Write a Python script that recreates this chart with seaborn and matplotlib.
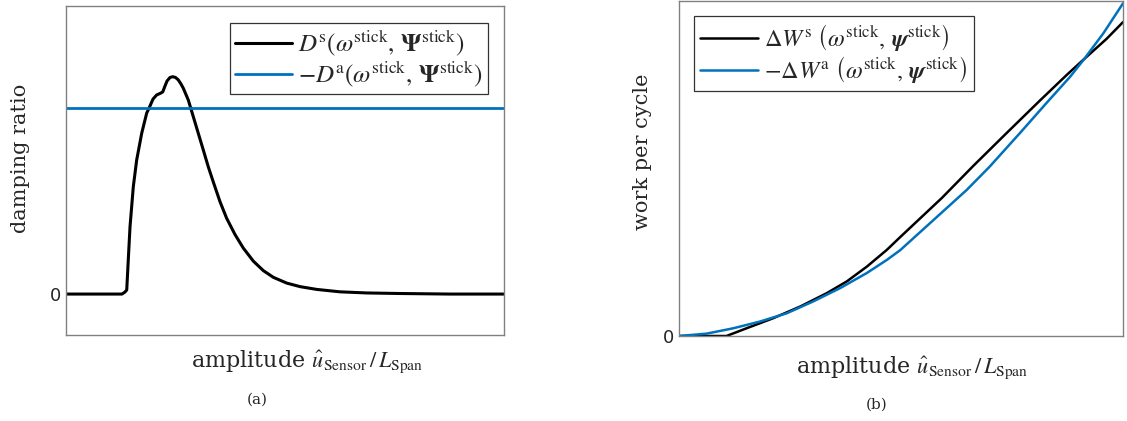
import numpy as np
import matplotlib
matplotlib.use("Agg")
import matplotlib.pyplot as plt
from matplotlib.font_manager import FontProperties
import seaborn as sns

# (a) damping ratio over amplitude (arbitrary units, zero at 0, aero level = 1)
amp_a = [0.0, 0.767, 0.808, 0.832, 0.853, 0.877, 0.922, 0.968, 1.037, 1.105,
         1.151, 1.192, 1.242, 1.288, 1.325, 1.356, 1.384, 1.425, 1.462, 1.500,
         1.538, 1.575, 1.607, 1.675, 1.744, 1.812, 1.881, 1.949, 2.018, 2.110,
         2.201, 2.315, 2.429, 2.566, 2.703, 2.840, 3.023, 3.205, 3.434, 3.753,
         4.119, 4.575, 5.260, 6.0]
damp_struct = [0.0, 0.0, 0.011, 0.022, 0.183, 0.362, 0.577, 0.720, 0.864, 0.972,
               1.011, 1.048, 1.070, 1.078, 1.086, 1.118, 1.145, 1.164, 1.168, 1.164,
               1.151, 1.129, 1.106, 1.043, 0.953, 0.864, 0.774, 0.684, 0.602, 0.496,
               0.407, 0.320, 0.247, 0.177, 0.126, 0.090, 0.059, 0.040, 0.025, 0.012,
               0.006, 0.003, 0.0, 0.0]
amp_aero = [0.0, 6.0]
damp_aero = [1.0, 1.0]

# (b) work per cycle over amplitude (normalised)
amp_ws = [0.0, 0.107, 0.152, 0.212, 0.273, 0.333, 0.378, 0.423, 0.468, 0.498,
          0.592, 0.663, 0.738, 0.813, 0.873, 0.911, 0.963, 1.0]
work_struct = [0.0, 0.0, 0.023, 0.053, 0.088, 0.128, 0.163, 0.207, 0.257, 0.295,
               0.412, 0.508, 0.606, 0.703, 0.779, 0.825, 0.887, 0.937]
amp_wa = [0.0, 0.062, 0.122, 0.182, 0.243, 0.302, 0.363, 0.423, 0.468, 0.498,
          0.573, 0.648, 0.700, 0.768, 0.828, 0.881, 0.911, 0.956, 1.0]
work_aero = [0.0, 0.007, 0.023, 0.043, 0.068, 0.103, 0.143, 0.188, 0.227, 0.256,
             0.346, 0.436, 0.506, 0.606, 0.696, 0.774, 0.824, 0.904, 0.993]

BLUE = "#0072BD"
GRAY = "#808080"

sns.set_style("white")
plt.rcParams["font.family"] = ["DejaVu Serif"]
plt.rcParams["mathtext.fontset"] = "stix"

fig = plt.figure(figsize=(11.27, 4.21), dpi=100)
W, H = 1127, 421
ax1 = fig.add_axes([66 / W, (H - 335) / H, 438 / W, 329 / H])
ax2 = fig.add_axes([679 / W, (H - 336) / H, 444 / W, 335 / H])

sns.lineplot(x=amp_a, y=damp_struct, ax=ax1, color="black", lw=2.2,
             label=r"$D^{\mathrm{s}}(\omega^{\mathrm{stick}},\,\mathbf{\Psi}^{\mathrm{stick}})$")
sns.lineplot(x=amp_aero, y=damp_aero, ax=ax1, color=BLUE, lw=2.0,
             label=r"$-D^{\mathrm{a}}(\omega^{\mathrm{stick}},\,\mathbf{\Psi}^{\mathrm{stick}})$")
ax1.set_xlim(0, 6)
ax1.set_ylim(-0.22, 1.548)
ax1.set_xticks([1, 2, 3, 4, 5])
ax1.set_xticklabels([])

sns.lineplot(x=amp_ws, y=work_struct, ax=ax2, color="black", lw=1.8,
             label=r"$\mathit{\Delta W}^{\mathrm{s}}\ \left(\omega^{\mathrm{stick}},\,\mathbfit{\psi}^{\mathrm{stick}}\right)$")
sns.lineplot(x=amp_wa, y=work_aero, ax=ax2, color=BLUE, lw=1.8,
             label=r"$-\mathit{\Delta W}^{\mathrm{a}}\ \left(\omega^{\mathrm{stick}},\,\mathbfit{\psi}^{\mathrm{stick}}\right)$")
ax2.set_xlim(0, 1)
ax2.set_ylim(0, 1)
ax2.set_xticks([])

for ax in (ax1, ax2):
    ax.set_yticks([0])
    ax.set_yticklabels(["0"], family="DejaVu Sans", fontsize=13)
    ax.tick_params(direction="in", length=4, color=GRAY, top=False, right=False)
    for s in ax.spines.values():
        s.set_color(GRAY)
        s.set_linewidth(1.0)

ax1.set_ylabel("damping ratio", fontsize=15)
ax2.set_ylabel("work per cycle", fontsize=15)
xlab = r"amplitude $\hat{u}_{\mathrm{Sensor}}\,/\,L_{\mathrm{Span}}$"
ax1.set_xlabel(xlab, fontsize=16)
ax2.set_xlabel(xlab, fontsize=16)
for ax in (ax1, ax2):
    ax.xaxis.label.set_va("center")
    ax.yaxis.label.set_va("center")
ax1.xaxis.set_label_coords((307 - 66) / 438, (335 - 362) / 329)
ax2.xaxis.set_label_coords((912 - 679) / 444, (336 - 368) / 335)
ax1.yaxis.set_label_coords((20 - 66) / 438, (335 - 158) / 329)
ax2.yaxis.set_label_coords((642 - 679) / 444, (336 - 152) / 335)

leg_a = ax1.legend(loc="upper right", bbox_to_anchor=((488 - 66) / 438, (335 - 23) / 329),
                   borderaxespad=0, fancybox=False, framealpha=1, handlelength=2.3,
                   handletextpad=0.25, borderpad=0.2, labelspacing=0.02,
                   prop=FontProperties(size=18))
leg_b = ax2.legend(loc="upper left", bbox_to_anchor=((694 - 679) / 444, (336 - 16) / 335),
                   borderaxespad=0, fancybox=False, framealpha=1, handlelength=2.4,
                   handletextpad=0.25, borderpad=0.25, labelspacing=0.05,
                   prop=FontProperties(size=17.5))
for leg in (leg_a, leg_b):
    leg.get_frame().set_edgecolor("#333333")
    leg.get_frame().set_linewidth(0.9)

fig.text(257 / W, 1 - 400 / H, "(a)", ha="center", va="center", fontsize=11)
fig.text(877 / W, 1 - 405 / H, "(b)", ha="center", va="center", fontsize=11)

fig.savefig("out.png", dpi=100)
